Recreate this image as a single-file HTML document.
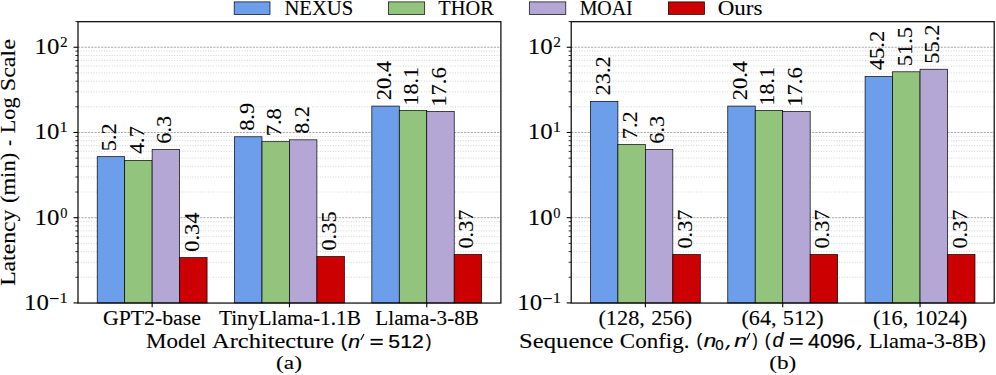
<!DOCTYPE html><html><head><meta charset="utf-8"><style>html,body{margin:0;padding:0;background:#fff;overflow:hidden;}svg{display:block;}</style></head><body><svg width="996" height="375" viewBox="0 0 996 375">
<rect width="996" height="375" fill="#fff"/>
<line x1="78" y1="277.27" x2="500.9" y2="277.27" stroke="#cbcbcb" stroke-width="0.8" stroke-dasharray="1,1.6"/>
<line x1="78" y1="262.26" x2="500.9" y2="262.26" stroke="#cbcbcb" stroke-width="0.8" stroke-dasharray="1,1.6"/>
<line x1="78" y1="251.62" x2="500.9" y2="251.62" stroke="#cbcbcb" stroke-width="0.8" stroke-dasharray="1,1.6"/>
<line x1="78" y1="243.36" x2="500.9" y2="243.36" stroke="#cbcbcb" stroke-width="0.8" stroke-dasharray="1,1.6"/>
<line x1="78" y1="236.61" x2="500.9" y2="236.61" stroke="#cbcbcb" stroke-width="0.8" stroke-dasharray="1,1.6"/>
<line x1="78" y1="230.9" x2="500.9" y2="230.9" stroke="#cbcbcb" stroke-width="0.8" stroke-dasharray="1,1.6"/>
<line x1="78" y1="225.96" x2="500.9" y2="225.96" stroke="#cbcbcb" stroke-width="0.8" stroke-dasharray="1,1.6"/>
<line x1="78" y1="221.6" x2="500.9" y2="221.6" stroke="#cbcbcb" stroke-width="0.8" stroke-dasharray="1,1.6"/>
<line x1="78" y1="192.04" x2="500.9" y2="192.04" stroke="#cbcbcb" stroke-width="0.8" stroke-dasharray="1,1.6"/>
<line x1="78" y1="177.03" x2="500.9" y2="177.03" stroke="#cbcbcb" stroke-width="0.8" stroke-dasharray="1,1.6"/>
<line x1="78" y1="166.39" x2="500.9" y2="166.39" stroke="#cbcbcb" stroke-width="0.8" stroke-dasharray="1,1.6"/>
<line x1="78" y1="158.13" x2="500.9" y2="158.13" stroke="#cbcbcb" stroke-width="0.8" stroke-dasharray="1,1.6"/>
<line x1="78" y1="151.38" x2="500.9" y2="151.38" stroke="#cbcbcb" stroke-width="0.8" stroke-dasharray="1,1.6"/>
<line x1="78" y1="145.67" x2="500.9" y2="145.67" stroke="#cbcbcb" stroke-width="0.8" stroke-dasharray="1,1.6"/>
<line x1="78" y1="140.73" x2="500.9" y2="140.73" stroke="#cbcbcb" stroke-width="0.8" stroke-dasharray="1,1.6"/>
<line x1="78" y1="136.37" x2="500.9" y2="136.37" stroke="#cbcbcb" stroke-width="0.8" stroke-dasharray="1,1.6"/>
<line x1="78" y1="106.81" x2="500.9" y2="106.81" stroke="#cbcbcb" stroke-width="0.8" stroke-dasharray="1,1.6"/>
<line x1="78" y1="91.8" x2="500.9" y2="91.8" stroke="#cbcbcb" stroke-width="0.8" stroke-dasharray="1,1.6"/>
<line x1="78" y1="81.16" x2="500.9" y2="81.16" stroke="#cbcbcb" stroke-width="0.8" stroke-dasharray="1,1.6"/>
<line x1="78" y1="72.9" x2="500.9" y2="72.9" stroke="#cbcbcb" stroke-width="0.8" stroke-dasharray="1,1.6"/>
<line x1="78" y1="66.15" x2="500.9" y2="66.15" stroke="#cbcbcb" stroke-width="0.8" stroke-dasharray="1,1.6"/>
<line x1="78" y1="60.44" x2="500.9" y2="60.44" stroke="#cbcbcb" stroke-width="0.8" stroke-dasharray="1,1.6"/>
<line x1="78" y1="55.5" x2="500.9" y2="55.5" stroke="#cbcbcb" stroke-width="0.8" stroke-dasharray="1,1.6"/>
<line x1="78" y1="51.14" x2="500.9" y2="51.14" stroke="#cbcbcb" stroke-width="0.8" stroke-dasharray="1,1.6"/>
<line x1="78" y1="21.58" x2="500.9" y2="21.58" stroke="#cbcbcb" stroke-width="0.8" stroke-dasharray="1,1.6"/>
<line x1="78" y1="217.7" x2="500.9" y2="217.7" stroke="#a0a0a0" stroke-width="0.9" stroke-dasharray="2.2,1.1"/>
<line x1="78" y1="132.47" x2="500.9" y2="132.47" stroke="#a0a0a0" stroke-width="0.9" stroke-dasharray="2.2,1.1"/>
<line x1="78" y1="47.24" x2="500.9" y2="47.24" stroke="#a0a0a0" stroke-width="0.9" stroke-dasharray="2.2,1.1"/>
<rect x="97.22" y="156.68" width="27.46" height="146.25" fill="#6d9eeb" stroke="#000" stroke-width="0.7"/>
<text transform="translate(116.33,149.88) rotate(-90)" x="-1.29" y="0" font-size="20.08" style="font-family:'Liberation Serif', serif" textLength="27.85" lengthAdjust="spacingAndGlyphs" stroke="#000" stroke-width="0.1">5.2</text>
<rect x="124.68" y="160.42" width="27.46" height="142.51" fill="#93c47d" stroke="#000" stroke-width="0.7"/>
<text transform="translate(143.79,153.62) rotate(-90)" x="-0.44" y="0" font-size="20.08" style="font-family:'Liberation Serif', serif" textLength="27.85" lengthAdjust="spacingAndGlyphs" stroke="#000" stroke-width="0.1">4.7</text>
<rect x="152.14" y="149.57" width="27.46" height="153.36" fill="#b4a7d6" stroke="#000" stroke-width="0.7"/>
<text transform="translate(171.25,142.77) rotate(-90)" x="-0.96" y="0" font-size="20.08" style="font-family:'Liberation Serif', serif" textLength="27.92" lengthAdjust="spacingAndGlyphs" stroke="#000" stroke-width="0.1">6.3</text>
<rect x="179.61" y="257.63" width="27.46" height="45.3" fill="#cc0000" stroke="#000" stroke-width="0.7"/>
<text transform="translate(198.71,250.83) rotate(-90)" x="-0.85" y="0" font-size="20.08" style="font-family:'Liberation Serif', serif" textLength="39.19" lengthAdjust="spacingAndGlyphs" stroke="#000" stroke-width="0.1">0.34</text>
<rect x="234.53" y="136.78" width="27.46" height="166.15" fill="#6d9eeb" stroke="#000" stroke-width="0.7"/>
<text transform="translate(253.64,129.98) rotate(-90)" x="-0.85" y="0" font-size="20.08" style="font-family:'Liberation Serif', serif" textLength="27.98" lengthAdjust="spacingAndGlyphs" stroke="#000" stroke-width="0.1">8.9</text>
<rect x="261.99" y="141.67" width="27.46" height="161.26" fill="#93c47d" stroke="#000" stroke-width="0.7"/>
<text transform="translate(281.1,134.87) rotate(-90)" x="-1.49" y="0" font-size="20.08" style="font-family:'Liberation Serif', serif" textLength="28.25" lengthAdjust="spacingAndGlyphs" stroke="#000" stroke-width="0.1">7.8</text>
<rect x="289.45" y="139.82" width="27.46" height="163.11" fill="#b4a7d6" stroke="#000" stroke-width="0.7"/>
<text transform="translate(308.56,133.02) rotate(-90)" x="-0.84" y="0" font-size="20.08" style="font-family:'Liberation Serif', serif" textLength="27.72" lengthAdjust="spacingAndGlyphs" stroke="#000" stroke-width="0.1">8.2</text>
<rect x="316.91" y="256.56" width="27.46" height="46.37" fill="#cc0000" stroke="#000" stroke-width="0.7"/>
<text transform="translate(336.02,249.76) rotate(-90)" x="-0.85" y="0" font-size="20.08" style="font-family:'Liberation Serif', serif" textLength="39.23" lengthAdjust="spacingAndGlyphs" stroke="#000" stroke-width="0.1">0.35</text>
<rect x="371.83" y="106.08" width="27.46" height="196.85" fill="#6d9eeb" stroke="#000" stroke-width="0.7"/>
<text transform="translate(390.94,99.28) rotate(-90)" x="-0.99" y="0" font-size="20.08" style="font-family:'Liberation Serif', serif" textLength="39.29" lengthAdjust="spacingAndGlyphs" stroke="#000" stroke-width="0.1">20.4</text>
<rect x="399.29" y="110.51" width="27.46" height="192.42" fill="#93c47d" stroke="#000" stroke-width="0.7"/>
<text transform="translate(418.4,103.71) rotate(-90)" x="-1.94" y="0" font-size="20.08" style="font-family:'Liberation Serif', serif" textLength="38.59" lengthAdjust="spacingAndGlyphs" stroke="#000" stroke-width="0.1">18.1</text>
<rect x="426.76" y="111.54" width="27.46" height="191.39" fill="#b4a7d6" stroke="#000" stroke-width="0.7"/>
<text transform="translate(445.86,104.74) rotate(-90)" x="-1.98" y="0" font-size="20.08" style="font-family:'Liberation Serif', serif" textLength="39.4" lengthAdjust="spacingAndGlyphs" stroke="#000" stroke-width="0.1">17.6</text>
<rect x="454.22" y="254.5" width="27.46" height="48.43" fill="#cc0000" stroke="#000" stroke-width="0.7"/>
<text transform="translate(473.32,247.7) rotate(-90)" x="-0.85" y="0" font-size="20.08" style="font-family:'Liberation Serif', serif" textLength="39.08" lengthAdjust="spacingAndGlyphs" stroke="#000" stroke-width="0.1">0.37</text>
<rect x="78" y="21.7" width="422.9" height="281.35" fill="none" stroke="#000" stroke-width="1.2"/>
<line x1="73.5" y1="302.93" x2="78" y2="302.93" stroke="#000" stroke-width="1.1"/>
<line x1="75.4" y1="277.27" x2="78" y2="277.27" stroke="#000" stroke-width="0.8"/>
<line x1="75.4" y1="262.26" x2="78" y2="262.26" stroke="#000" stroke-width="0.8"/>
<line x1="75.4" y1="251.62" x2="78" y2="251.62" stroke="#000" stroke-width="0.8"/>
<line x1="75.4" y1="243.36" x2="78" y2="243.36" stroke="#000" stroke-width="0.8"/>
<line x1="75.4" y1="236.61" x2="78" y2="236.61" stroke="#000" stroke-width="0.8"/>
<line x1="75.4" y1="230.9" x2="78" y2="230.9" stroke="#000" stroke-width="0.8"/>
<line x1="75.4" y1="225.96" x2="78" y2="225.96" stroke="#000" stroke-width="0.8"/>
<line x1="75.4" y1="221.6" x2="78" y2="221.6" stroke="#000" stroke-width="0.8"/>
<line x1="73.5" y1="217.7" x2="78" y2="217.7" stroke="#000" stroke-width="1.1"/>
<line x1="75.4" y1="192.04" x2="78" y2="192.04" stroke="#000" stroke-width="0.8"/>
<line x1="75.4" y1="177.03" x2="78" y2="177.03" stroke="#000" stroke-width="0.8"/>
<line x1="75.4" y1="166.39" x2="78" y2="166.39" stroke="#000" stroke-width="0.8"/>
<line x1="75.4" y1="158.13" x2="78" y2="158.13" stroke="#000" stroke-width="0.8"/>
<line x1="75.4" y1="151.38" x2="78" y2="151.38" stroke="#000" stroke-width="0.8"/>
<line x1="75.4" y1="145.67" x2="78" y2="145.67" stroke="#000" stroke-width="0.8"/>
<line x1="75.4" y1="140.73" x2="78" y2="140.73" stroke="#000" stroke-width="0.8"/>
<line x1="75.4" y1="136.37" x2="78" y2="136.37" stroke="#000" stroke-width="0.8"/>
<line x1="73.5" y1="132.47" x2="78" y2="132.47" stroke="#000" stroke-width="1.1"/>
<line x1="75.4" y1="106.81" x2="78" y2="106.81" stroke="#000" stroke-width="0.8"/>
<line x1="75.4" y1="91.8" x2="78" y2="91.8" stroke="#000" stroke-width="0.8"/>
<line x1="75.4" y1="81.16" x2="78" y2="81.16" stroke="#000" stroke-width="0.8"/>
<line x1="75.4" y1="72.9" x2="78" y2="72.9" stroke="#000" stroke-width="0.8"/>
<line x1="75.4" y1="66.15" x2="78" y2="66.15" stroke="#000" stroke-width="0.8"/>
<line x1="75.4" y1="60.44" x2="78" y2="60.44" stroke="#000" stroke-width="0.8"/>
<line x1="75.4" y1="55.5" x2="78" y2="55.5" stroke="#000" stroke-width="0.8"/>
<line x1="75.4" y1="51.14" x2="78" y2="51.14" stroke="#000" stroke-width="0.8"/>
<line x1="73.5" y1="47.24" x2="78" y2="47.24" stroke="#000" stroke-width="1.1"/>
<line x1="75.4" y1="21.58" x2="78" y2="21.58" stroke="#000" stroke-width="0.8"/>
<line x1="152.14" y1="302.93" x2="152.14" y2="307.13" stroke="#000" stroke-width="1.1"/>
<text x="102.91" y="324.8" font-size="20.24" style="font-family:'Liberation Serif', serif;" textLength="98.05" lengthAdjust="spacingAndGlyphs" fill="#000" stroke="#000" stroke-width="0.1">GPT2-base</text>
<line x1="289.45" y1="302.93" x2="289.45" y2="307.13" stroke="#000" stroke-width="1.1"/>
<text x="218.92" y="324.8" font-size="20.24" style="font-family:'Liberation Serif', serif;" textLength="142.12" lengthAdjust="spacingAndGlyphs" fill="#000" stroke="#000" stroke-width="0.1">TinyLlama-1.1B</text>
<line x1="426.76" y1="302.93" x2="426.76" y2="307.13" stroke="#000" stroke-width="1.1"/>
<text x="375.39" y="324.8" font-size="20.24" style="font-family:'Liberation Serif', serif;" textLength="103.54" lengthAdjust="spacingAndGlyphs" fill="#000" stroke="#000" stroke-width="0.1">Llama-3-8B</text>
<text x="24.02" y="309.93" font-size="22.56" style="font-family:'Liberation Serif', serif;" textLength="24.83" lengthAdjust="spacingAndGlyphs" fill="#000" stroke="#000" stroke-width="0.1">10</text>
<rect x="50" y="298.03" width="8.6" height="1.1" fill="#000"/>
<text x="59.55" y="302.83" font-size="15" style="font-family:'Liberation Serif', serif;" textLength="8.24" lengthAdjust="spacingAndGlyphs" fill="#000" stroke="#000" stroke-width="0.1">1</text>
<text x="34.52" y="224.7" font-size="22.56" style="font-family:'Liberation Serif', serif;" textLength="24.83" lengthAdjust="spacingAndGlyphs" fill="#000" stroke="#000" stroke-width="0.1">10</text>
<text x="60.15" y="217.6" font-size="14.89" style="font-family:'Liberation Serif', serif;" textLength="7.2" lengthAdjust="spacingAndGlyphs" fill="#000" stroke="#000" stroke-width="0.1">0</text>
<text x="34.52" y="139.47" font-size="22.56" style="font-family:'Liberation Serif', serif;" textLength="24.83" lengthAdjust="spacingAndGlyphs" fill="#000" stroke="#000" stroke-width="0.1">10</text>
<text x="59.55" y="132.37" font-size="15" style="font-family:'Liberation Serif', serif;" textLength="8.24" lengthAdjust="spacingAndGlyphs" fill="#000" stroke="#000" stroke-width="0.1">1</text>
<text x="34.52" y="54.24" font-size="22.56" style="font-family:'Liberation Serif', serif;" textLength="24.83" lengthAdjust="spacingAndGlyphs" fill="#000" stroke="#000" stroke-width="0.1">10</text>
<text x="60.03" y="47.14" font-size="14.95" style="font-family:'Liberation Serif', serif;" textLength="7.61" lengthAdjust="spacingAndGlyphs" fill="#000" stroke="#000" stroke-width="0.1">2</text>
<line x1="571.2" y1="277.27" x2="994.2" y2="277.27" stroke="#cbcbcb" stroke-width="0.8" stroke-dasharray="1,1.6"/>
<line x1="571.2" y1="262.26" x2="994.2" y2="262.26" stroke="#cbcbcb" stroke-width="0.8" stroke-dasharray="1,1.6"/>
<line x1="571.2" y1="251.62" x2="994.2" y2="251.62" stroke="#cbcbcb" stroke-width="0.8" stroke-dasharray="1,1.6"/>
<line x1="571.2" y1="243.36" x2="994.2" y2="243.36" stroke="#cbcbcb" stroke-width="0.8" stroke-dasharray="1,1.6"/>
<line x1="571.2" y1="236.61" x2="994.2" y2="236.61" stroke="#cbcbcb" stroke-width="0.8" stroke-dasharray="1,1.6"/>
<line x1="571.2" y1="230.9" x2="994.2" y2="230.9" stroke="#cbcbcb" stroke-width="0.8" stroke-dasharray="1,1.6"/>
<line x1="571.2" y1="225.96" x2="994.2" y2="225.96" stroke="#cbcbcb" stroke-width="0.8" stroke-dasharray="1,1.6"/>
<line x1="571.2" y1="221.6" x2="994.2" y2="221.6" stroke="#cbcbcb" stroke-width="0.8" stroke-dasharray="1,1.6"/>
<line x1="571.2" y1="192.04" x2="994.2" y2="192.04" stroke="#cbcbcb" stroke-width="0.8" stroke-dasharray="1,1.6"/>
<line x1="571.2" y1="177.03" x2="994.2" y2="177.03" stroke="#cbcbcb" stroke-width="0.8" stroke-dasharray="1,1.6"/>
<line x1="571.2" y1="166.39" x2="994.2" y2="166.39" stroke="#cbcbcb" stroke-width="0.8" stroke-dasharray="1,1.6"/>
<line x1="571.2" y1="158.13" x2="994.2" y2="158.13" stroke="#cbcbcb" stroke-width="0.8" stroke-dasharray="1,1.6"/>
<line x1="571.2" y1="151.38" x2="994.2" y2="151.38" stroke="#cbcbcb" stroke-width="0.8" stroke-dasharray="1,1.6"/>
<line x1="571.2" y1="145.67" x2="994.2" y2="145.67" stroke="#cbcbcb" stroke-width="0.8" stroke-dasharray="1,1.6"/>
<line x1="571.2" y1="140.73" x2="994.2" y2="140.73" stroke="#cbcbcb" stroke-width="0.8" stroke-dasharray="1,1.6"/>
<line x1="571.2" y1="136.37" x2="994.2" y2="136.37" stroke="#cbcbcb" stroke-width="0.8" stroke-dasharray="1,1.6"/>
<line x1="571.2" y1="106.81" x2="994.2" y2="106.81" stroke="#cbcbcb" stroke-width="0.8" stroke-dasharray="1,1.6"/>
<line x1="571.2" y1="91.8" x2="994.2" y2="91.8" stroke="#cbcbcb" stroke-width="0.8" stroke-dasharray="1,1.6"/>
<line x1="571.2" y1="81.16" x2="994.2" y2="81.16" stroke="#cbcbcb" stroke-width="0.8" stroke-dasharray="1,1.6"/>
<line x1="571.2" y1="72.9" x2="994.2" y2="72.9" stroke="#cbcbcb" stroke-width="0.8" stroke-dasharray="1,1.6"/>
<line x1="571.2" y1="66.15" x2="994.2" y2="66.15" stroke="#cbcbcb" stroke-width="0.8" stroke-dasharray="1,1.6"/>
<line x1="571.2" y1="60.44" x2="994.2" y2="60.44" stroke="#cbcbcb" stroke-width="0.8" stroke-dasharray="1,1.6"/>
<line x1="571.2" y1="55.5" x2="994.2" y2="55.5" stroke="#cbcbcb" stroke-width="0.8" stroke-dasharray="1,1.6"/>
<line x1="571.2" y1="51.14" x2="994.2" y2="51.14" stroke="#cbcbcb" stroke-width="0.8" stroke-dasharray="1,1.6"/>
<line x1="571.2" y1="21.58" x2="994.2" y2="21.58" stroke="#cbcbcb" stroke-width="0.8" stroke-dasharray="1,1.6"/>
<line x1="571.2" y1="217.7" x2="994.2" y2="217.7" stroke="#a0a0a0" stroke-width="0.9" stroke-dasharray="2.2,1.1"/>
<line x1="571.2" y1="132.47" x2="994.2" y2="132.47" stroke="#a0a0a0" stroke-width="0.9" stroke-dasharray="2.2,1.1"/>
<line x1="571.2" y1="47.24" x2="994.2" y2="47.24" stroke="#a0a0a0" stroke-width="0.9" stroke-dasharray="2.2,1.1"/>
<rect x="590.43" y="101.32" width="27.47" height="201.61" fill="#6d9eeb" stroke="#000" stroke-width="0.7"/>
<text transform="translate(609.54,94.52) rotate(-90)" x="-0.99" y="0" font-size="20.08" style="font-family:'Liberation Serif', serif" textLength="39.32" lengthAdjust="spacingAndGlyphs" stroke="#000" stroke-width="0.1">23.2</text>
<rect x="617.89" y="144.63" width="27.47" height="158.3" fill="#93c47d" stroke="#000" stroke-width="0.7"/>
<text transform="translate(637.01,137.83) rotate(-90)" x="-1.48" y="0" font-size="20.08" style="font-family:'Liberation Serif', serif" textLength="28.07" lengthAdjust="spacingAndGlyphs" stroke="#000" stroke-width="0.1">7.2</text>
<rect x="645.36" y="149.57" width="27.47" height="153.36" fill="#b4a7d6" stroke="#000" stroke-width="0.7"/>
<text transform="translate(664.47,142.77) rotate(-90)" x="-0.96" y="0" font-size="20.08" style="font-family:'Liberation Serif', serif" textLength="27.92" lengthAdjust="spacingAndGlyphs" stroke="#000" stroke-width="0.1">6.3</text>
<rect x="672.83" y="254.5" width="27.47" height="48.43" fill="#cc0000" stroke="#000" stroke-width="0.7"/>
<text transform="translate(691.94,247.7) rotate(-90)" x="-0.85" y="0" font-size="20.08" style="font-family:'Liberation Serif', serif" textLength="39.08" lengthAdjust="spacingAndGlyphs" stroke="#000" stroke-width="0.1">0.37</text>
<rect x="727.76" y="106.08" width="27.47" height="196.85" fill="#6d9eeb" stroke="#000" stroke-width="0.7"/>
<text transform="translate(746.88,99.28) rotate(-90)" x="-0.99" y="0" font-size="20.08" style="font-family:'Liberation Serif', serif" textLength="39.29" lengthAdjust="spacingAndGlyphs" stroke="#000" stroke-width="0.1">20.4</text>
<rect x="755.23" y="110.51" width="27.47" height="192.42" fill="#93c47d" stroke="#000" stroke-width="0.7"/>
<text transform="translate(774.34,103.71) rotate(-90)" x="-1.94" y="0" font-size="20.08" style="font-family:'Liberation Serif', serif" textLength="38.59" lengthAdjust="spacingAndGlyphs" stroke="#000" stroke-width="0.1">18.1</text>
<rect x="782.7" y="111.54" width="27.47" height="191.39" fill="#b4a7d6" stroke="#000" stroke-width="0.7"/>
<text transform="translate(801.81,104.74) rotate(-90)" x="-1.98" y="0" font-size="20.08" style="font-family:'Liberation Serif', serif" textLength="39.4" lengthAdjust="spacingAndGlyphs" stroke="#000" stroke-width="0.1">17.6</text>
<rect x="810.17" y="254.5" width="27.47" height="48.43" fill="#cc0000" stroke="#000" stroke-width="0.7"/>
<text transform="translate(829.28,247.7) rotate(-90)" x="-0.85" y="0" font-size="20.08" style="font-family:'Liberation Serif', serif" textLength="39.08" lengthAdjust="spacingAndGlyphs" stroke="#000" stroke-width="0.1">0.37</text>
<rect x="865.1" y="76.63" width="27.47" height="226.3" fill="#6d9eeb" stroke="#000" stroke-width="0.7"/>
<text transform="translate(884.21,69.83) rotate(-90)" x="-0.44" y="0" font-size="20.08" style="font-family:'Liberation Serif', serif" textLength="39.44" lengthAdjust="spacingAndGlyphs" stroke="#000" stroke-width="0.1">45.2</text>
<rect x="892.57" y="71.8" width="27.47" height="231.13" fill="#93c47d" stroke="#000" stroke-width="0.7"/>
<text transform="translate(911.68,65) rotate(-90)" x="-1.31" y="0" font-size="20.08" style="font-family:'Liberation Serif', serif" textLength="39.34" lengthAdjust="spacingAndGlyphs" stroke="#000" stroke-width="0.1">51.5</text>
<rect x="920.04" y="69.23" width="27.47" height="233.7" fill="#b4a7d6" stroke="#000" stroke-width="0.7"/>
<text transform="translate(939.15,62.43) rotate(-90)" x="-1.31" y="0" font-size="20.08" style="font-family:'Liberation Serif', serif" textLength="39.33" lengthAdjust="spacingAndGlyphs" stroke="#000" stroke-width="0.1">55.2</text>
<rect x="947.51" y="254.5" width="27.47" height="48.43" fill="#cc0000" stroke="#000" stroke-width="0.7"/>
<text transform="translate(966.62,247.7) rotate(-90)" x="-0.85" y="0" font-size="20.08" style="font-family:'Liberation Serif', serif" textLength="39.08" lengthAdjust="spacingAndGlyphs" stroke="#000" stroke-width="0.1">0.37</text>
<rect x="571.2" y="21.7" width="423" height="281.35" fill="none" stroke="#000" stroke-width="1.2"/>
<line x1="566.7" y1="302.93" x2="571.2" y2="302.93" stroke="#000" stroke-width="1.1"/>
<line x1="568.6" y1="277.27" x2="571.2" y2="277.27" stroke="#000" stroke-width="0.8"/>
<line x1="568.6" y1="262.26" x2="571.2" y2="262.26" stroke="#000" stroke-width="0.8"/>
<line x1="568.6" y1="251.62" x2="571.2" y2="251.62" stroke="#000" stroke-width="0.8"/>
<line x1="568.6" y1="243.36" x2="571.2" y2="243.36" stroke="#000" stroke-width="0.8"/>
<line x1="568.6" y1="236.61" x2="571.2" y2="236.61" stroke="#000" stroke-width="0.8"/>
<line x1="568.6" y1="230.9" x2="571.2" y2="230.9" stroke="#000" stroke-width="0.8"/>
<line x1="568.6" y1="225.96" x2="571.2" y2="225.96" stroke="#000" stroke-width="0.8"/>
<line x1="568.6" y1="221.6" x2="571.2" y2="221.6" stroke="#000" stroke-width="0.8"/>
<line x1="566.7" y1="217.7" x2="571.2" y2="217.7" stroke="#000" stroke-width="1.1"/>
<line x1="568.6" y1="192.04" x2="571.2" y2="192.04" stroke="#000" stroke-width="0.8"/>
<line x1="568.6" y1="177.03" x2="571.2" y2="177.03" stroke="#000" stroke-width="0.8"/>
<line x1="568.6" y1="166.39" x2="571.2" y2="166.39" stroke="#000" stroke-width="0.8"/>
<line x1="568.6" y1="158.13" x2="571.2" y2="158.13" stroke="#000" stroke-width="0.8"/>
<line x1="568.6" y1="151.38" x2="571.2" y2="151.38" stroke="#000" stroke-width="0.8"/>
<line x1="568.6" y1="145.67" x2="571.2" y2="145.67" stroke="#000" stroke-width="0.8"/>
<line x1="568.6" y1="140.73" x2="571.2" y2="140.73" stroke="#000" stroke-width="0.8"/>
<line x1="568.6" y1="136.37" x2="571.2" y2="136.37" stroke="#000" stroke-width="0.8"/>
<line x1="566.7" y1="132.47" x2="571.2" y2="132.47" stroke="#000" stroke-width="1.1"/>
<line x1="568.6" y1="106.81" x2="571.2" y2="106.81" stroke="#000" stroke-width="0.8"/>
<line x1="568.6" y1="91.8" x2="571.2" y2="91.8" stroke="#000" stroke-width="0.8"/>
<line x1="568.6" y1="81.16" x2="571.2" y2="81.16" stroke="#000" stroke-width="0.8"/>
<line x1="568.6" y1="72.9" x2="571.2" y2="72.9" stroke="#000" stroke-width="0.8"/>
<line x1="568.6" y1="66.15" x2="571.2" y2="66.15" stroke="#000" stroke-width="0.8"/>
<line x1="568.6" y1="60.44" x2="571.2" y2="60.44" stroke="#000" stroke-width="0.8"/>
<line x1="568.6" y1="55.5" x2="571.2" y2="55.5" stroke="#000" stroke-width="0.8"/>
<line x1="568.6" y1="51.14" x2="571.2" y2="51.14" stroke="#000" stroke-width="0.8"/>
<line x1="566.7" y1="47.24" x2="571.2" y2="47.24" stroke="#000" stroke-width="1.1"/>
<line x1="568.6" y1="21.58" x2="571.2" y2="21.58" stroke="#000" stroke-width="0.8"/>
<line x1="645.36" y1="302.93" x2="645.36" y2="307.13" stroke="#000" stroke-width="1.1"/>
<text x="598.42" y="324.8" font-size="20.24" style="font-family:'Liberation Serif', serif;" textLength="46.49" lengthAdjust="spacingAndGlyphs" fill="#000" stroke="#000" stroke-width="0.1">(128,</text>
<text x="651.24" y="324.8" font-size="20.24" style="font-family:'Liberation Serif', serif;" textLength="40.84" lengthAdjust="spacingAndGlyphs" fill="#000" stroke="#000" stroke-width="0.1">256)</text>
<line x1="782.7" y1="302.93" x2="782.7" y2="307.13" stroke="#000" stroke-width="1.1"/>
<text x="741.53" y="324.8" font-size="20.24" style="font-family:'Liberation Serif', serif;" textLength="34.97" lengthAdjust="spacingAndGlyphs" fill="#000" stroke="#000" stroke-width="0.1">(64,</text>
<text x="782.84" y="324.8" font-size="20.24" style="font-family:'Liberation Serif', serif;" textLength="40.84" lengthAdjust="spacingAndGlyphs" fill="#000" stroke="#000" stroke-width="0.1">512)</text>
<line x1="920.04" y1="302.93" x2="920.04" y2="307.13" stroke="#000" stroke-width="1.1"/>
<text x="873.12" y="324.8" font-size="20.24" style="font-family:'Liberation Serif', serif;" textLength="35.16" lengthAdjust="spacingAndGlyphs" fill="#000" stroke="#000" stroke-width="0.1">(16,</text>
<text x="914.65" y="324.8" font-size="20.24" style="font-family:'Liberation Serif', serif;" textLength="52.64" lengthAdjust="spacingAndGlyphs" fill="#000" stroke="#000" stroke-width="0.1">1024)</text>
<text x="517.22" y="309.93" font-size="22.56" style="font-family:'Liberation Serif', serif;" textLength="24.83" lengthAdjust="spacingAndGlyphs" fill="#000" stroke="#000" stroke-width="0.1">10</text>
<rect x="543.2" y="298.03" width="8.6" height="1.1" fill="#000"/>
<text x="552.75" y="302.83" font-size="15" style="font-family:'Liberation Serif', serif;" textLength="8.24" lengthAdjust="spacingAndGlyphs" fill="#000" stroke="#000" stroke-width="0.1">1</text>
<text x="527.72" y="224.7" font-size="22.56" style="font-family:'Liberation Serif', serif;" textLength="24.83" lengthAdjust="spacingAndGlyphs" fill="#000" stroke="#000" stroke-width="0.1">10</text>
<text x="553.35" y="217.6" font-size="14.89" style="font-family:'Liberation Serif', serif;" textLength="7.2" lengthAdjust="spacingAndGlyphs" fill="#000" stroke="#000" stroke-width="0.1">0</text>
<text x="527.72" y="139.47" font-size="22.56" style="font-family:'Liberation Serif', serif;" textLength="24.83" lengthAdjust="spacingAndGlyphs" fill="#000" stroke="#000" stroke-width="0.1">10</text>
<text x="552.75" y="132.37" font-size="15" style="font-family:'Liberation Serif', serif;" textLength="8.24" lengthAdjust="spacingAndGlyphs" fill="#000" stroke="#000" stroke-width="0.1">1</text>
<text x="527.72" y="54.24" font-size="22.56" style="font-family:'Liberation Serif', serif;" textLength="24.83" lengthAdjust="spacingAndGlyphs" fill="#000" stroke="#000" stroke-width="0.1">10</text>
<text x="553.23" y="47.14" font-size="14.95" style="font-family:'Liberation Serif', serif;" textLength="7.61" lengthAdjust="spacingAndGlyphs" fill="#000" stroke="#000" stroke-width="0.1">2</text>
<text transform="translate(15.2,285.2) rotate(-90)" x="-0.68" y="0" font-size="21.38" style="font-family:'Liberation Serif', serif" textLength="76.32" lengthAdjust="spacingAndGlyphs" stroke="#000" stroke-width="0.1">Latency</text>
<text transform="translate(15.2,202.03) rotate(-90)" x="-0.99" y="0" font-size="21.38" style="font-family:'Liberation Serif', serif" textLength="50.28" lengthAdjust="spacingAndGlyphs" stroke="#000" stroke-width="0.1">(min)</text>
<text transform="translate(15.2,145.34) rotate(-90)" x="-0.68" y="0" font-size="21.38" style="font-family:'Liberation Serif', serif" textLength="6.11" lengthAdjust="spacingAndGlyphs" stroke="#000" stroke-width="0.1">-</text>
<text transform="translate(15.2,132.63) rotate(-90)" x="-0.64" y="0" font-size="21.38" style="font-family:'Liberation Serif', serif" textLength="35.78" lengthAdjust="spacingAndGlyphs" stroke="#000" stroke-width="0.1">Log</text>
<text transform="translate(15.2,89.71) rotate(-90)" x="-1.62" y="0" font-size="21.38" style="font-family:'Liberation Serif', serif" textLength="52.36" lengthAdjust="spacingAndGlyphs" stroke="#000" stroke-width="0.1">Scale</text>
<rect x="234.2" y="1.9" width="35.8" height="12.5" fill="#6d9eeb" stroke="#000" stroke-width="0.7"/>
<text x="284.4" y="14.7" font-size="20.39" style="font-family:'Liberation Serif', serif;" textLength="68.88" lengthAdjust="spacingAndGlyphs" fill="#000" stroke="#000" stroke-width="0.1">NEXUS</text>
<rect x="388.4" y="1.9" width="36.3" height="12.5" fill="#93c47d" stroke="#000" stroke-width="0.7"/>
<text x="438.33" y="14.7" font-size="20.39" style="font-family:'Liberation Serif', serif;" textLength="55.4" lengthAdjust="spacingAndGlyphs" fill="#000" stroke="#000" stroke-width="0.1">THOR</text>
<rect x="529.3" y="1.9" width="36.5" height="12.5" fill="#b4a7d6" stroke="#000" stroke-width="0.7"/>
<text x="579.63" y="14.7" font-size="20.39" style="font-family:'Liberation Serif', serif;" textLength="53.07" lengthAdjust="spacingAndGlyphs" fill="#000" stroke="#000" stroke-width="0.1">MOAI</text>
<rect x="668.35" y="1.9" width="36.15" height="12.5" fill="#cc0000" stroke="#000" stroke-width="0.7"/>
<text x="717.66" y="14.7" font-size="20.39" style="font-family:'Liberation Serif', serif;" textLength="44.67" lengthAdjust="spacingAndGlyphs" fill="#000" stroke="#000" stroke-width="0.1">Ours</text>
<text x="146.14" y="347.9" font-size="21.08" style="font-family:'Liberation Serif', serif;" textLength="60.15" lengthAdjust="spacingAndGlyphs" fill="#000" stroke="#000" stroke-width="0.1">Model</text>
<text x="212.1" y="347.9" font-size="21.08" style="font-family:'Liberation Serif', serif;" textLength="122.05" lengthAdjust="spacingAndGlyphs" fill="#000" stroke="#000" stroke-width="0.1">Architecture</text>
<text x="340.78" y="346.8" font-size="18.35" style="font-family:'Liberation Sans', sans-serif;" textLength="6.53" lengthAdjust="spacingAndGlyphs" fill="#000" stroke="#000" stroke-width="0.2">(</text>
<text x="348.15" y="347.6" font-size="18.79" style="font-family:'Liberation Sans', sans-serif;font-style:italic;" textLength="11.82" lengthAdjust="spacingAndGlyphs" fill="#000" stroke="#000" stroke-width="0.2">n</text>
<line x1="360.8" y1="340" x2="364" y2="334" stroke="#000" stroke-width="1.2"/>
<rect x="370.6" y="338.9" width="12.1" height="1.7" fill="#000"/>
<rect x="370.6" y="343.3" width="12.1" height="1.7" fill="#000"/>
<text x="388.35" y="347.81" font-size="19.07" style="font-family:'Liberation Sans', sans-serif;" textLength="35.52" lengthAdjust="spacingAndGlyphs" fill="#000" stroke="#000" stroke-width="0.2">512</text>
<text x="425.8" y="346.8" font-size="18.35" style="font-family:'Liberation Sans', sans-serif;" textLength="5.65" lengthAdjust="spacingAndGlyphs" fill="#000" stroke="#000" stroke-width="0.2">)</text>
<text x="275.97" y="368.99" font-size="18.86" style="font-family:'Liberation Serif', serif;" textLength="25.96" lengthAdjust="spacingAndGlyphs" fill="#000" stroke="#000" stroke-width="0.1">(a)</text>
<text x="519.05" y="347.6" font-size="20.84" style="font-family:'Liberation Serif', serif;" textLength="94.53" lengthAdjust="spacingAndGlyphs" fill="#000" stroke="#000" stroke-width="0.1">Sequence</text>
<text x="619.89" y="347.6" font-size="20.84" style="font-family:'Liberation Serif', serif;" textLength="69.53" lengthAdjust="spacingAndGlyphs" fill="#000" stroke="#000" stroke-width="0.1">Config.</text>
<text x="696.45" y="345.94" font-size="18.14" style="font-family:'Liberation Sans', sans-serif;" textLength="5.65" lengthAdjust="spacingAndGlyphs" fill="#000" stroke="#000" stroke-width="0.2">(</text>
<text x="703.83" y="347.3" font-size="19.16" style="font-family:'Liberation Sans', sans-serif;font-style:italic;" textLength="12.49" lengthAdjust="spacingAndGlyphs" fill="#000" stroke="#000" stroke-width="0.2">n</text>
<text x="715.31" y="350.16" font-size="14.55" style="font-family:'Liberation Sans', sans-serif;" textLength="8.38" lengthAdjust="spacingAndGlyphs" fill="#000" stroke="#000" stroke-width="0.2">0</text>
<path d="M727.9 345.1 L729.8 345.5 L726.5 349.9 L725.5 349.6 Z" fill="#000" stroke="#000" stroke-width="0.4" stroke-linejoin="round"/>
<text x="734.22" y="347.3" font-size="19.16" style="font-family:'Liberation Sans', sans-serif;font-style:italic;" textLength="12.83" lengthAdjust="spacingAndGlyphs" fill="#000" stroke="#000" stroke-width="0.2">n</text>
<line x1="747" y1="339.4" x2="750" y2="333" stroke="#000" stroke-width="1.2"/>
<text x="752.61" y="345.94" font-size="18.14" style="font-family:'Liberation Sans', sans-serif;" textLength="5.28" lengthAdjust="spacingAndGlyphs" fill="#000" stroke="#000" stroke-width="0.2">)</text>
<text x="764.82" y="345.94" font-size="18.14" style="font-family:'Liberation Sans', sans-serif;" textLength="5.78" lengthAdjust="spacingAndGlyphs" fill="#000" stroke="#000" stroke-width="0.2">(</text>
<text x="772.43" y="347.1" font-size="19.73" style="font-family:'Liberation Sans', sans-serif;font-style:italic;" textLength="11.05" lengthAdjust="spacingAndGlyphs" fill="#000" stroke="#000" stroke-width="0.2">d</text>
<rect x="790" y="338.2" width="12.7" height="1.7" fill="#000"/>
<rect x="790" y="342.9" width="12.7" height="1.7" fill="#000"/>
<text x="808.11" y="347.6" font-size="20.35" style="font-family:'Liberation Sans', sans-serif;" textLength="47.22" lengthAdjust="spacingAndGlyphs" fill="#000" stroke="#000" stroke-width="0.2">4096</text>
<path d="M859.4 345.0 L861.3 345.4 L857.8 349.9 L856.9 349.6 Z" fill="#000" stroke="#000" stroke-width="0.4" stroke-linejoin="round"/>
<text x="869.05" y="347.6" font-size="21.08" style="font-family:'Liberation Serif', serif;" textLength="116.93" lengthAdjust="spacingAndGlyphs" fill="#000" stroke="#000" stroke-width="0.1">Llama-3-8B)</text>
<text x="769.28" y="368.99" font-size="18.86" style="font-family:'Liberation Serif', serif;" textLength="27.04" lengthAdjust="spacingAndGlyphs" fill="#000" stroke="#000" stroke-width="0.1">(b)</text>
</svg></body></html>
